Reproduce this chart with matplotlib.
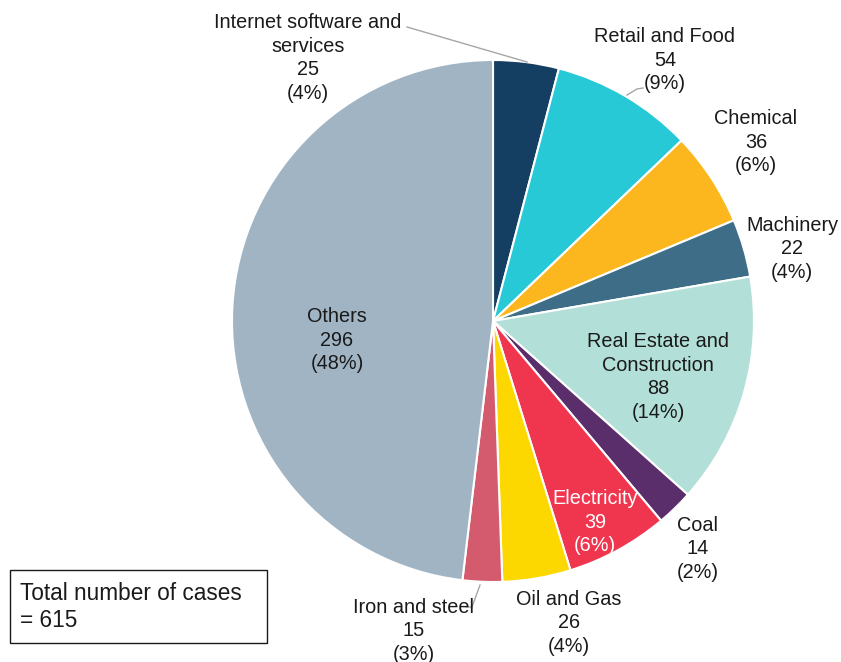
import matplotlib
matplotlib.use("Agg")
import matplotlib.pyplot as plt
from matplotlib.patches import Rectangle

plt.rcParams['font.family'] = ['Liberation Sans', 'DejaVu Sans']

categories = ["Internet software and\nservices", "Retail and Food", "Chemical", "Machinery",
              "Real Estate and\nConstruction", "Coal", "Electricity", "Oil and Gas",
              "Iron and steel", "Others"]
cases = [25, 54, 36, 22, 88, 14, 39, 26, 15, 296]
percent_labels = ["4%", "9%", "6%", "4%", "14%", "2%", "6%", "4%", "3%", "48%"]
colors = ["#153F62", "#26C9D5", "#FDB71E", "#3E6E87", "#B2E0D8",
          "#5A2D6B", "#F0364F", "#FDD700", "#D45B6E", "#A0B4C4"]

W, H = 841, 662
fig = plt.figure(figsize=(W / 100, H / 100), dpi=100)
ax = fig.add_axes([0, 0, 1, 1])

def py(y):
    return H - y

center = (493, py(321))
radius = 261
ax.pie(cases, colors=colors, startangle=90, counterclock=False,
       center=center, radius=radius, frame=True,
       wedgeprops=dict(edgecolor='white', linewidth=1.5))
ax.set_xlim(0, W)
ax.set_ylim(0, H)
ax.set_aspect('equal')
ax.axis('off')

# label anchor positions (pixels, centre of the text block) and text colours
label_pos = [(308, 58), (665, 60), (756, 142), (792, 249), (658, 377),
             (698, 549), (595, 522), (569, 623), (414, 631), (337, 340)]
label_col = ["#1a1a1a"] * 6 + ["white"] + ["#1a1a1a"] * 3

for cat, n, p, (x, y), c in zip(categories, cases, percent_labels, label_pos, label_col):
    ax.text(x, py(y), f"{cat}\n{n}\n({p})", ha='center', va='center',
            fontsize=14.3, color=c, linespacing=1.3)

# leader lines for labels placed away from their slices
ax.plot([407, 527], [py(27), py(62)], color='#A6A6A6', lw=1)
ax.plot([627, 637, 643], [py(95), py(89), py(88)], color='#A6A6A6', lw=1)
ax.plot([466, 472, 480], [py(607), py(607), py(585)], color='#A6A6A6', lw=1)

# total box
ax.add_patch(Rectangle((10, py(643)), 257, 73, fill=False, edgecolor='#1a1a1a', lw=1))
ax.text(20, py(607), "Total number of cases\n= 615", ha='left', va='center',
        fontsize=16.3, color='#1a1a1a', linespacing=1.25)

fig.savefig("out.png", dpi=100)
